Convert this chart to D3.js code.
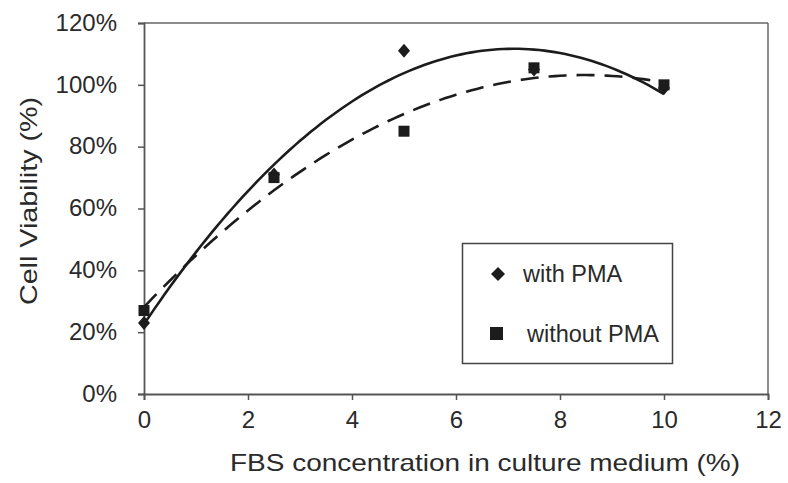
<!DOCTYPE html>
<html>
<head>
<meta charset="utf-8">
<script src="https://cdn.jsdelivr.net/npm/d3@7"></script>
<style>
  html, body { margin: 0; padding: 0; background: #fff; }
  svg { display: block; }
  text { font-family: "Liberation Sans", Arial, sans-serif; fill: #2a2a2a; }
</style>
</head>
<body>
<svg id="chart" width="788" height="483"></svg>
<script>
// ---- data ----
const fbs = [0, 2.5, 5, 7.5, 10];
const withPMA = [0.23, 0.71, 1.11, 1.05, 0.99];
const withoutPMA = [0.27, 0.70, 0.85, 1.055, 1.00];
const xTicks = [0, 2, 4, 6, 8, 10, 12];
const yTicks = [0, 0.2, 0.4, 0.6, 0.8, 1.0, 1.2];
const seriesNames = ["with PMA", "without PMA"];
const xTitle = "FBS concentration in culture medium (%)";
const yTitle = "Cell Viability (%)";

// ---- layout ----
const svg = d3.select("#chart");
const pLeft = 144, pRight = 768, pTop = 23, pBottom = 394;
const x = d3.scaleLinear().domain([0, 12]).range([pLeft, pRight]);
const y = d3.scaleLinear().domain([0, 1.2]).range([pBottom, pTop]);
const ink = "#1c1c1c";
const axisColor = "#555";

// frame (top and right)
svg.append("line").attr("x1", pLeft).attr("x2", pRight).attr("y1", pTop).attr("y2", pTop)
  .attr("stroke", "#666").attr("stroke-width", 1.5);
svg.append("line").attr("x1", pRight).attr("x2", pRight).attr("y1", pTop).attr("y2", pBottom)
  .attr("stroke", "#666").attr("stroke-width", 1.5);

// axes
const xAxis = svg.append("g").attr("transform", `translate(0,${pBottom})`)
  .call(d3.axisBottom(x).tickValues(xTicks).tickFormat(d3.format("d")).tickSize(6).tickPadding(11));
const yAxis = svg.append("g").attr("transform", `translate(${pLeft},0)`)
  .call(d3.axisLeft(y).tickValues(yTicks).tickFormat(d3.format(".0%")).tickSize(6).tickPadding(21));
[xAxis, yAxis].forEach(g => {
  g.select(".domain").attr("stroke", axisColor).attr("stroke-width", 1.8);
  g.selectAll(".tick line").attr("stroke", axisColor).attr("stroke-width", 1.5);
  g.selectAll(".tick text").attr("font-size", 24).attr("fill", "#2a2a2a")
    .attr("font-family", "Liberation Sans, Arial, sans-serif");
});
yAxis.selectAll(".tick text").attr("dy", "0.3em");
xAxis.selectAll(".tick text").attr("dy", "0.71em");

// titles
svg.append("text").attr("x", 485).attr("y", 471).attr("text-anchor", "middle")
  .attr("font-size", 24).attr("textLength", 510).attr("lengthAdjust", "spacingAndGlyphs")
  .text(xTitle);
svg.append("text").attr("transform", "translate(37,201) rotate(-90)").attr("text-anchor", "middle")
  .attr("font-size", 24).attr("textLength", 208).attr("lengthAdjust", "spacingAndGlyphs")
  .text(yTitle);

// quadratic least-squares trend lines (as in the source chart)
function quadFit(xs, ys) {
  const n = xs.length;
  let s = [0, 0, 0, 0, 0], t = [0, 0, 0];
  for (let i = 0; i < n; i++) {
    for (let k = 0; k < 5; k++) s[k] += Math.pow(xs[i], k);
    for (let k = 0; k < 3; k++) t[k] += ys[i] * Math.pow(xs[i], k);
  }
  const M = [[s[0], s[1], s[2], t[0]], [s[1], s[2], s[3], t[1]], [s[2], s[3], s[4], t[2]]];
  for (let i = 0; i < 3; i++) {
    for (let j = i + 1; j < 3; j++) {
      const f = M[j][i] / M[i][i];
      for (let k = i; k < 4; k++) M[j][k] -= f * M[i][k];
    }
  }
  const c = [0, 0, 0];
  for (let i = 2; i >= 0; i--) {
    let v = M[i][3];
    for (let k = i + 1; k < 3; k++) v -= M[i][k] * c[k];
    c[i] = v / M[i][i];
  }
  return xv => c[0] + c[1] * xv + c[2] * xv * xv;
}
const xsSample = d3.range(0, 10.001, 0.1);
const line = d3.line().x(d => x(d[0])).y(d => y(d[1]));
const fitA = quadFit(fbs, withPMA), fitB = quadFit(fbs, withoutPMA);
svg.append("path").attr("d", line(xsSample.map(v => [v, fitB(v)])))
  .attr("fill", "none").attr("stroke", ink).attr("stroke-width", 2.6).attr("stroke-dasharray", "18,10");
svg.append("path").attr("d", line(xsSample.map(v => [v, fitA(v)])))
  .attr("fill", "none").attr("stroke", ink).attr("stroke-width", 2.6);

// markers
const diamond = (cx, cy, w, h) => `M${cx},${cy - h}L${cx + w},${cy}L${cx},${cy + h}L${cx - w},${cy}Z`;
svg.append("g").selectAll("path").data(fbs.map((v, i) => [v, withPMA[i]])).join("path")
  .attr("d", d => diamond(x(d[0]), y(d[1]), 6, 7)).attr("fill", ink);
svg.append("g").selectAll("rect").data(fbs.map((v, i) => [v, withoutPMA[i]])).join("rect")
  .attr("x", d => x(d[0]) - 5.5).attr("y", d => y(d[1]) - 5.5).attr("width", 11).attr("height", 11)
  .attr("fill", ink);

// legend
const lg = svg.append("g");
lg.append("rect").attr("x", 462.5).attr("y", 243.5).attr("width", 210).attr("height", 120)
  .attr("fill", "#fff").attr("stroke", "#444").attr("stroke-width", 1.5);
lg.append("path").attr("d", diamond(498, 274, 7, 7)).attr("fill", ink);
lg.append("rect").attr("x", 490).attr("y", 327).attr("width", 13).attr("height", 13).attr("fill", ink);
lg.append("text").attr("x", 523).attr("y", 282).attr("font-size", 23.5).text(seriesNames[0]);
lg.append("text").attr("x", 527).attr("y", 342).attr("font-size", 23.5).text(seriesNames[1]);
</script>
</body>
</html>
